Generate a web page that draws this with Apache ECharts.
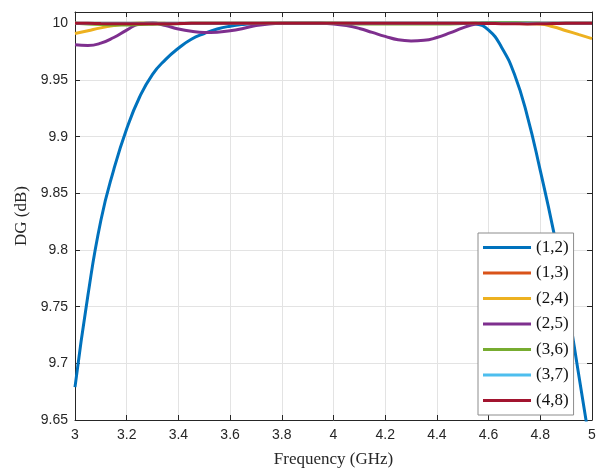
<!DOCTYPE html>
<html><head><meta charset="utf-8">
<script src="https://cdn.jsdelivr.net/npm/echarts@6/dist/echarts.min.js"></script>
<style>html,body{margin:0;padding:0;background:#fff}#c{width:597px;height:472px}</style>
</head><body><div id="c"></div>
<script>
const freq = [3.00,3.05,3.10,3.15,3.20,3.25,3.30,3.35,3.40,3.45,3.50,3.55,3.60,3.65,3.70,3.75,3.80,3.85,3.90,3.95,4.00,4.05,4.10,4.15,4.20,4.25,4.30,4.35,4.40,4.45,4.50,4.55,4.60,4.65,4.70,4.75,4.80,4.85,4.90,4.95,5.00];
const s12 = [9.679,9.760,9.826,9.871,9.907,9.935,9.955,9.968,9.978,9.986,9.991,9.995,9.9975,9.999,9.9997,10.0,10.0,10.0,10.0,10.0,10.0,10.0,10.0,10.0,10.0,10.0,10.0,10.0,10.0,10.0,10.0,9.9993,9.994,9.979,9.955,9.918,9.870,9.818,9.758,9.688,9.617];
const s13 = [10,10,10,10,10,10,10,10,10,10,10,10,10,10,10,10,10,10,10,10,10,10,10,10,10,10,10,10,10,10,10,10,10,10,10,10,10,10,10,10,10];
const s24 = [9.991,9.9935,9.996,9.998,9.9995,10.0003,10.0002,10.0,9.9999,9.9998,9.9998,9.9998,9.9998,9.9998,9.9999,10.0,10.0,10.0,10.0,10.0,10.0,10.0,9.9999,9.9998,9.9998,9.9998,9.9998,9.9998,9.9998,9.9998,9.9998,9.9998,9.9998,9.9998,9.9998,9.9997,9.9994,9.997,9.9935,9.990,9.9865];
const s25 = [9.981,9.9805,9.9825,9.9875,9.994,9.9995,10.0003,9.998,9.995,9.993,9.992,9.9922,9.9935,9.9955,9.998,9.9995,10.0,10.0,10.0,10.0,9.9995,9.998,9.9955,9.992,9.9885,9.9855,9.9845,9.985,9.9875,9.9915,9.996,9.9995,10.0005,10.0005,10.0003,10.0,10.0,10.0,10.0,10.0,10.0];
const s36 = [10.0,9.9995,9.999,9.9985,9.9985,9.999,9.9993,9.9995,9.9997,10.0,10.0,10.0,10.0,10.0,10.0,10.0,10.0,10.0,10.0,10.0,10.0,9.9997,9.9995,9.9995,9.9995,9.9995,9.9995,9.9995,9.9995,9.9995,9.9998,10.0002,10.0005,10.0007,10.0007,10.0005,10.0002,10.0,10.0,10.0,10.0];
const s37 = [10,10,10,10,10,10,10,10,10,10,10,10,10,10,10,10,10,10,10,10,10,10,10,10,10,10,10,10,10,10,10,10,10,10,10,10,10,10,10,10,10];
const s48 = [10.0,10.0,9.9998,9.9997,9.9996,9.9996,9.9996,9.9997,9.9998,10.0,10.0,10.0,10.0,10.0,10.0,10.0,10.0,10.0,10.0,10.0,10.0,10.0,10.0,10.0,10.0,10.0,10.0,10.0,10.0,10.0,10.0,10.0,9.9999,9.9997,9.9996,9.9995,9.9996,9.9998,10.0,10.0,10.0];
const names = ['(1,2)','(1,3)','(2,4)','(2,5)','(3,6)','(3,7)','(4,8)'];
const colors = ['#0072BD','#D95319','#EDB120','#7E2F8E','#77AC30','#4DBEEE','#A2142F'];
const xTicks = {min:3, max:5, interval:0.2};
const yTicks = {min:9.65, max:10.01, interval:0.05};
const allData = [s12,s13,s24,s25,s36,s37,s48];

const chart = echarts.init(document.getElementById('c'), null, {renderer:'canvas'});
const axisCol = '#262626';
const labelFont = {fontFamily:'Liberation Sans, Arial, sans-serif', fontSize:14, color:axisCol};
chart.setOption({
  animation:false,
  backgroundColor:'#fff',
  grid:{left:75, right:5, top:12, bottom:52, outerBoundsMode:'none'},
  xAxis:[{
    type:'value', min:xTicks.min, max:xTicks.max, interval:xTicks.interval, position:'bottom',
    name:'Frequency (GHz)', nameLocation:'middle', nameGap:31,
    nameTextStyle:{fontFamily:'Liberation Serif, Times New Roman, serif', fontSize:17, color:axisCol},
    axisLine:{lineStyle:{color:axisCol, width:1}},
    axisTick:{inside:true, length:5, lineStyle:{color:axisCol}},
    axisLabel:Object.assign({margin:8}, labelFont),
    splitLine:{show:true, lineStyle:{color:'#e3e3e3', width:1}}
  },{
    type:'value', min:xTicks.min, max:xTicks.max, interval:xTicks.interval, position:'top',
    axisLine:{show:true, lineStyle:{color:axisCol, width:1}},
    axisTick:{show:true, inside:true, length:5, lineStyle:{color:axisCol}},
    axisLabel:{show:false}, splitLine:{show:false}
  }],
  yAxis:[{
    type:'value', min:yTicks.min, max:yTicks.max, interval:yTicks.interval, position:'left',
    name:'DG (dB)', nameLocation:'middle', nameGap:45, nameRotate:90,
    nameTextStyle:{fontFamily:'Liberation Serif, Times New Roman, serif', fontSize:17, color:axisCol},
    axisLine:{show:true, lineStyle:{color:axisCol, width:1}},
    axisTick:{show:true, inside:true, length:5, lineStyle:{color:axisCol}},
    axisLabel:Object.assign({margin:7, showMaxLabel:false}, labelFont),
    splitLine:{show:true, lineStyle:{color:'#e3e3e3', width:1}}
  },{
    type:'value', min:yTicks.min, max:yTicks.max, interval:yTicks.interval, position:'right',
    axisLine:{show:true, lineStyle:{color:axisCol, width:1}},
    axisTick:{show:true, inside:true, length:5, lineStyle:{color:axisCol}},
    axisLabel:{show:false}, splitLine:{show:false}
  }],
  legend:{
    orient:'vertical', left:478, top:233,
    padding:[6,5,6,5], itemGap:8.5, itemWidth:48, itemHeight:3,
    backgroundColor:'#fff', borderColor:'#8c8c8c', borderWidth:1, borderRadius:0,
    icon:'rect',
    textStyle:{fontFamily:'Liberation Serif, Times New Roman, serif', fontSize:17, color:'#111', lineHeight:16},
    data:names
  },
  series: names.map((n,i)=>({
    name:n, type:'line', smooth:true, showSymbol:false, symbol:'none',
    clip:true, z:2+i,
    lineStyle:{color:colors[i], width:3},
    itemStyle:{color:colors[i]},
    data: freq.map((f,k)=>[f, allData[i][k]])
  }))
});
</script></body></html>
